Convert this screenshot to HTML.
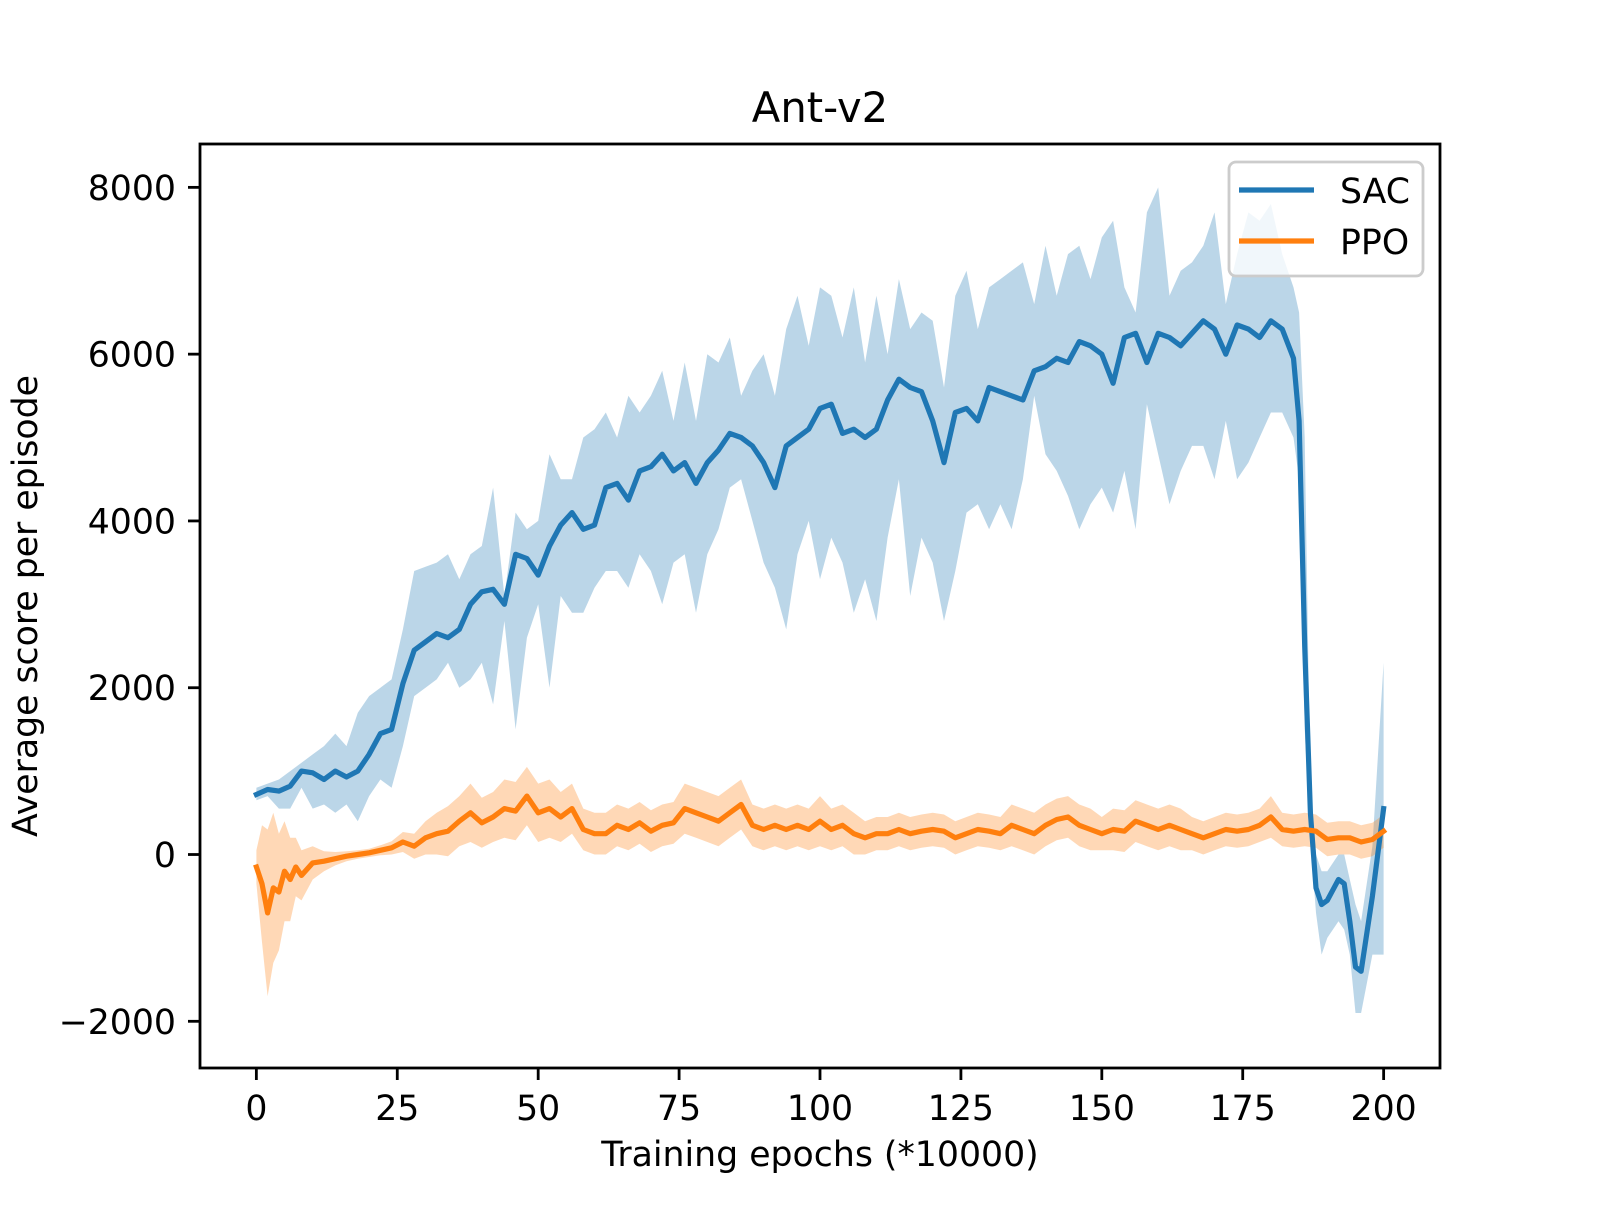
<!DOCTYPE html>
<html><head><meta charset="utf-8"><style>
html,body{margin:0;padding:0;background:#fff}
svg text{font-family:"DejaVu Sans","Liberation Sans",sans-serif;fill:#000}
</style></head><body>
<svg id="chart" width="1600" height="1200" xmlns="http://www.w3.org/2000/svg">
<rect width="1600" height="1200" fill="#fff"/>
<defs><clipPath id="clip"><rect x="200" y="144" width="1240" height="924"/></clipPath></defs>
<g id="plot" clip-path="url(#clip)"></g>
<g id="axes"></g>
</svg>
<script>
const sacX=[0,2,4,6,8,10,12,14,16,18,20,22,24,26,28,30,32,34,36,38,40,42,44,46,48,50,52,54,56,58,60,62,64,66,68,70,72,74,76,78,80,82,84,86,88,90,92,94,96,98,100,102,104,106,108,110,112,114,116,118,120,122,124,126,128,130,132,134,136,138,140,142,144,146,148,150,152,154,156,158,160,162,164,166,168,170,172,174,176,178,180,182,184,185,186,187,188,189,190,192,193,194,195,196,198,200];
const sacMean=[720,780,760,820,1000,980,900,1000,930,1000,1200,1450,1500,2050,2450,2550,2650,2600,2700,3000,3150,3180,3000,3600,3550,3350,3700,3950,4100,3900,3950,4400,4450,4250,4600,4650,4800,4600,4700,4450,4700,4850,5050,5000,4900,4700,4400,4900,5000,5100,5350,5400,5050,5100,5000,5100,5450,5700,5600,5550,5200,4700,5300,5350,5200,5600,5550,5500,5450,5800,5850,5950,5900,6150,6100,6000,5650,6200,6250,5900,6250,6200,6100,6250,6400,6300,6000,6350,6300,6200,6400,6300,5950,5200,2500,500,-400,-600,-550,-300,-350,-800,-1350,-1400,-500,550];
const sacHi=[800,850,900,1000,1100,1200,1300,1450,1300,1700,1900,2000,2100,2700,3400,3450,3500,3600,3300,3600,3700,4400,3100,4100,3900,4000,4800,4500,4500,5000,5100,5300,5000,5500,5300,5500,5800,5200,5900,5200,6000,5900,6200,5500,5800,6000,5500,6300,6700,6100,6800,6700,6200,6800,5900,6700,6000,6900,6300,6500,6400,5600,6700,7000,6300,6800,6900,7000,7100,6600,7300,6700,7200,7300,6900,7400,7600,6800,6500,7700,8000,6700,7000,7100,7300,7700,6600,7200,7700,7600,7800,7200,6800,6500,5000,800,0,-200,-200,0,0,-300,-600,-800,100,2300];
const sacLo=[650,700,550,550,800,550,600,500,600,400,700,900,800,1300,1900,2000,2100,2300,2000,2100,2300,1800,2800,1500,2600,3000,2000,3100,2900,2900,3200,3400,3400,3200,3600,3400,3000,3500,3600,2900,3600,3900,4400,4500,4000,3500,3200,2700,3600,4000,3300,3800,3500,2900,3300,2800,3800,4500,3100,3800,3500,2800,3400,4100,4200,3900,4200,3900,4500,5500,4800,4600,4300,3900,4200,4400,4100,4600,3900,5400,4800,4200,4600,4900,4900,4500,5200,4500,4700,5000,5300,5300,5000,4500,1500,200,-700,-1200,-1000,-800,-900,-1200,-1900,-1900,-1200,-1200];
const ppoX=[0,1,2,3,4,5,6,7,8,10,12,14,16,18,20,22,24,26,28,30,32,34,36,38,40,42,44,46,48,50,52,54,56,58,60,62,64,66,68,70,72,74,76,78,80,82,84,86,88,90,92,94,96,98,100,102,104,106,108,110,112,114,116,118,120,122,124,126,128,130,132,134,136,138,140,142,144,146,148,150,152,154,156,158,160,162,164,166,168,170,172,174,176,178,180,182,184,186,188,190,192,194,196,198,200];
const ppoMean=[-150,-350,-700,-400,-450,-200,-300,-150,-250,-100,-80,-50,-20,0,20,50,80,150,100,200,250,280,400,500,380,450,550,520,700,500,550,450,550,300,250,250,350,300,380,280,350,380,550,500,450,400,500,600,350,300,350,300,350,300,400,300,350,250,200,250,250,300,250,280,300,280,200,250,300,280,250,350,300,250,350,420,450,350,300,250,300,280,400,350,300,350,300,250,200,250,300,280,300,350,450,300,280,300,280,180,200,200,150,180,280];
const ppoSpread=[200,700,1000,900,700,600,500,350,300,200,120,80,60,50,50,60,80,120,150,200,250,300,300,350,300,300,350,350,350,350,350,300,300,250,250,250,250,250,250,250,250,250,300,300,300,300,300,300,250,250,250,250,250,250,300,250,250,250,200,200,200,200,200,200,200,200,200,200,200,200,200,250,250,250,250,250,250,250,250,200,250,250,250,250,250,250,250,200,200,200,200,200,200,200,250,200,200,200,200,200,200,200,200,200,200];

const L=200,R=1440,T=144,B=1068,X0=-10,X1=210,Y0=-2560,Y1=8520;
const sx=v=>L+(v-X0)/(X1-X0)*(R-L);
const sy=v=>B-(v-Y0)/(Y1-Y0)*(B-T);
const NS="http://www.w3.org/2000/svg";
function mk(tag,attrs,parent){const e=document.createElementNS(NS,tag);for(const k in attrs)e.setAttribute(k,attrs[k]);parent.appendChild(e);return e;}
const plot=document.getElementById('plot'),axes=document.getElementById('axes');
function band(xs,hi,lo,color,name){
  let d='M'+xs.map((x,i)=>sx(x).toFixed(1)+','+sy(hi[i]).toFixed(1)).join('L');
  for(let i=xs.length-1;i>=0;i--)d+='L'+sx(xs[i]).toFixed(1)+','+sy(lo[i]).toFixed(1);
  const p=mk('path',{d:d+'Z',fill:color,'fill-opacity':0.3,stroke:'none'},plot);
  
  
}
function line(xs,ys,color,name){
  const d='M'+xs.map((x,i)=>sx(x).toFixed(1)+','+sy(ys[i]).toFixed(1)).join('L');
  const p=mk('path',{d:d,fill:'none',stroke:color,'stroke-width':5.2,'stroke-linejoin':'round','stroke-linecap':'square'},plot);
  
  
}
band(sacX,sacHi,sacLo,'#1f77b4','sac-band');
band(ppoX,ppoMean.map((m,i)=>m+ppoSpread[i]),ppoMean.map((m,i)=>m-ppoSpread[i]),'#ff7f0e','ppo-band');
line(sacX,sacMean,'#1f77b4','sac-line');
line(ppoX,ppoMean,'#ff7f0e','ppo-line');

const xTicks=[0,25,50,75,100,125,150,175,200];
const yTicks=[-2000,0,2000,4000,6000,8000];
xTicks.forEach(t=>{
  const l=mk('line',{x1:sx(t),x2:sx(t),y1:B,y2:B+12,stroke:'#000','stroke-width':2.8},axes);
  
  
  const tx=mk('text',{x:sx(t),y:B+52,'text-anchor':'middle','font-size':34.7},axes);
  tx.textContent=t;
  
  
});
yTicks.forEach(t=>{
  const l=mk('line',{x1:L-12,x2:L,y1:sy(t),y2:sy(t),stroke:'#000','stroke-width':2.8},axes);
  
  
  const tx=mk('text',{x:L-24,y:sy(t)+12.5,'text-anchor':'end','font-size':34.7},axes);
  tx.textContent=t<0?'\u2212'+(-t):t;
  
  
});
</script>
<svg style="position:absolute;left:0;top:0" width="1600" height="1200" xmlns="http://www.w3.org/2000/svg">
<rect x="200" y="144" width="1240" height="924" fill="none" stroke="#000" stroke-width="2.8"/>
<text x="820" y="122" text-anchor="middle" font-size="41.7">Ant-v2</text>
<text x="820" y="1166" text-anchor="middle" font-size="34.7">Training epochs (*10000)</text>
<text x="0" y="0" transform="translate(37,606) rotate(-90)" text-anchor="middle" font-size="34.7">Average score per episode</text>
<g>
<rect x="1229" y="162" width="194" height="114" rx="7" fill="#fff" fill-opacity="0.8" stroke="#ccc" stroke-width="2.8"/>
<line x1="1239" x2="1314" y1="190" y2="190" stroke="#1f77b4" stroke-width="5.2"/>
<text x="1340" y="203" font-size="34.7">SAC</text>
<line x1="1239" x2="1314" y1="241" y2="241" stroke="#ff7f0e" stroke-width="5.2"/>
<text x="1340" y="254" font-size="34.7">PPO</text>
</g>
</svg>
</body></html>
